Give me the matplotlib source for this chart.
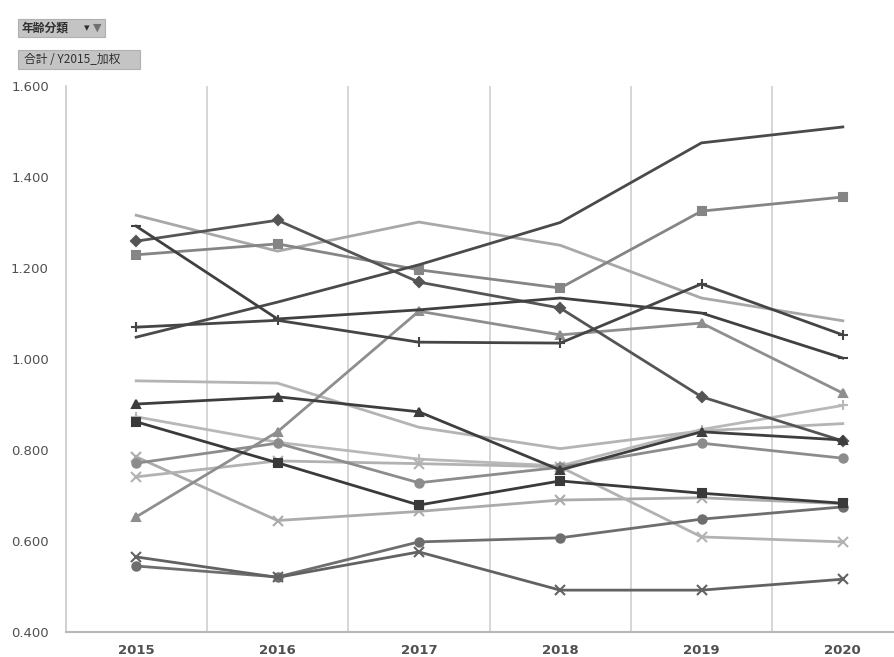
import matplotlib.pyplot as plt
from matplotlib.patches import FancyBboxPatch

plt.rcParams['font.family'] = ['Noto Sans CJK JP', 'DejaVu Sans']

years = ['2015', '2016', '2017', '2018', '2019', '2020']
y_ticks = [0.4, 0.6, 0.8, 1.0, 1.2, 1.4, 1.6]
y_tick_labels = ['0.400', '0.600', '0.800', '1.000', '1.200', '1.400', '1.600']

s01 = [1.048, 1.125, 1.207, 1.300, 1.475, 1.510]
s02 = [1.229, 1.253, 1.196, 1.156, 1.325, 1.356]
s03 = [1.316, 1.237, 1.301, 1.250, 1.134, 1.084]
s04 = [1.259, 1.305, 1.169, 1.112, 0.917, 0.820]
s05 = [1.292, 1.088, 1.108, 1.134, 1.101, 1.002]
s06 = [1.070, 1.085, 1.037, 1.035, 1.165, 1.053]
s07 = [0.653, 0.840, 1.105, 1.053, 1.079, 0.925]
s08 = [0.952, 0.947, 0.850, 0.803, 0.842, 0.858]
s09 = [0.901, 0.917, 0.884, 0.756, 0.840, 0.822]
s10 = [0.862, 0.772, 0.679, 0.732, 0.705, 0.683]
s11 = [0.873, 0.817, 0.780, 0.765, 0.845, 0.898]
s12 = [0.771, 0.815, 0.728, 0.762, 0.815, 0.782]
s13 = [0.785, 0.645, 0.665, 0.690, 0.695, 0.682]
s14 = [0.741, 0.776, 0.770, 0.763, 0.609, 0.598]
s15 = [0.545, 0.521, 0.598, 0.607, 0.648, 0.675]
s16 = [0.565, 0.520, 0.576, 0.492, 0.492, 0.516]

# (values, colour, marker)
series = [
    (s08, '#b4b4b4', None),
    (s11, '#b8b8b8', '+'),
    (s13, '#ababab', 'x'),
    (s14, '#b2b2b2', 'x'),
    (s03, '#a8a8a8', None),
    (s07, '#8e8e8e', '^'),
    (s12, '#8c8c8c', 'o'),
    (s02, '#858585', 's'),
    (s15, '#6e6e6e', 'o'),
    (s16, '#626262', 'x'),
    (s04, '#555555', 'D'),
    (s01, '#4a4a4a', None),
    (s05, '#404040', '_'),
    (s06, '#454545', '+'),
    (s09, '#3e3e3e', '^'),
    (s10, '#3a3a3a', 's'),
]

fig = plt.figure(figsize=(8.94, 6.57), dpi=100)
ax = fig.add_axes([65.5 / 894, 25 / 657, 848 / 894, 546 / 657])

x = list(range(len(years)))
for vals, col, mk in series:
    ms = 6 if mk in ('s', 'o', '^') else (5 if mk == 'D' else 7)
    ax.plot(x, vals, color=col, lw=2, marker=mk, markersize=ms,
            markeredgewidth=1.5, solid_joinstyle='miter')

ax.set_xlim(-0.5, 5.5)
ax.set_ylim(0.4, 1.6)
ax.set_yticks(y_ticks)
ax.set_yticklabels(y_tick_labels, color='#505050', fontsize=9.5,
                   family=['DejaVu Sans'])
ax.set_xticks(x)
ax.set_xticklabels(years, color='#505050', fontsize=9.5, fontweight='bold',
                   family=['DejaVu Sans'])
ax.tick_params(axis='both', length=0)
ax.tick_params(axis='y', pad=12)
ax.tick_params(axis='x', pad=9)

for b in [0.5, 1.5, 2.5, 3.5, 4.5]:
    ax.axvline(b, color='#cfcfcf', lw=1.2, zorder=0)

for side in ['top', 'right']:
    ax.spines[side].set_visible(False)
ax.spines['left'].set_color('#c8c8c8')
ax.spines['left'].set_linewidth(1.2)
ax.spines['bottom'].set_color('#b8b8b8')
ax.spines['bottom'].set_linewidth(1.5)

# pivot field buttons
btn1 = FancyBboxPatch((18 / 894, 1 - 37 / 657), 87 / 894, 18 / 657,
                      boxstyle='square,pad=0', transform=fig.transFigure,
                      facecolor='#c4c4c4', edgecolor='#b0b0b0', lw=0.8)
fig.patches.append(btn1)
fig.text(22 / 894, 1 - 28 / 657, '年齢分類', fontsize=8.5, color='#303030',
         fontweight='bold', va='center', ha='left')
fig.text(84 / 894, 1 - 28 / 657, '▾', fontsize=8, color='#303030',
         va='center', ha='left', family=['DejaVu Sans'])
fig.text(93 / 894, 1 - 28 / 657, '▼', fontsize=8, color='#707070',
         va='center', ha='left', family=['DejaVu Sans'])

btn2 = FancyBboxPatch((18 / 894, 1 - 69 / 657), 122 / 894, 19 / 657,
                      boxstyle='square,pad=0', transform=fig.transFigure,
                      facecolor='#c4c4c4', edgecolor='#b0b0b0', lw=0.8)
fig.patches.append(btn2)
fig.text(24 / 894, 1 - 59.5 / 657, '合計 / Y2015_加权', fontsize=8.5,
         color='#303030', va='center', ha='left')

fig.savefig('out.png', dpi=100)
